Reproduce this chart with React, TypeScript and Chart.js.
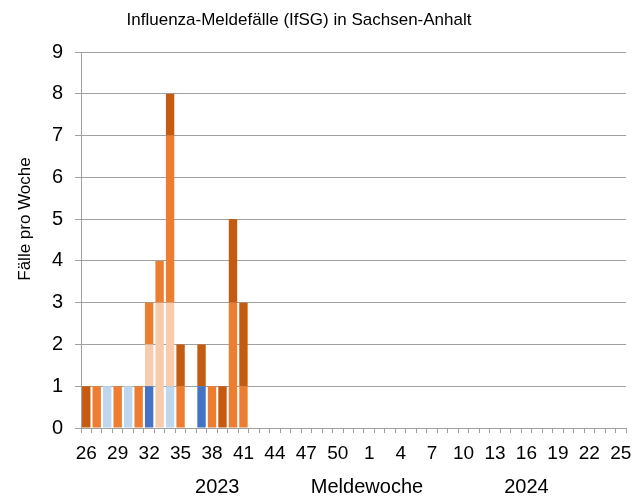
import React, { useEffect, useRef } from "react";
import { Chart, registerables } from "chart.js";

Chart.register(...registerables);

// Meldewochen 26/2023 .. 25/2024
const weeks: string[] = [
  "26", "27", "28", "29", "30", "31", "32", "33", "34", "35", "36", "37", "38", "39",
  "40", "41", "42", "43", "44", "45", "46", "47", "48", "49", "50", "51", "52",
  "1", "2", "3", "4", "5", "6", "7", "8", "9", "10", "11", "12", "13",
  "14", "15", "16", "17", "18", "19", "20", "21", "22", "23", "24", "25",
];

// Stacked series (bottom to top), cases per week
const seriesBlue: number[] = [
  0, 0, 0, 0, 0, 0, 1, 0, 0, 0, 0, 1, 0, 0, 0, 0, 0, 0, 0, 0, 0, 0, 0, 0, 0, 0, 0,
  0, 0, 0, 0, 0, 0, 0, 0, 0, 0, 0, 0, 0, 0, 0, 0, 0, 0, 0, 0, 0, 0, 0, 0, 0,
];
const seriesLightBlue: number[] = [
  0, 0, 1, 0, 1, 0, 0, 0, 1, 0, 0, 0, 0, 0, 0, 0, 0, 0, 0, 0, 0, 0, 0, 0, 0, 0, 0,
  0, 0, 0, 0, 0, 0, 0, 0, 0, 0, 0, 0, 0, 0, 0, 0, 0, 0, 0, 0, 0, 0, 0, 0, 0,
];
const seriesPeach: number[] = [
  0, 0, 0, 0, 0, 0, 1, 3, 2, 0, 0, 0, 0, 0, 0, 0, 0, 0, 0, 0, 0, 0, 0, 0, 0, 0, 0,
  0, 0, 0, 0, 0, 0, 0, 0, 0, 0, 0, 0, 0, 0, 0, 0, 0, 0, 0, 0, 0, 0, 0, 0, 0,
];
const seriesOrange: number[] = [
  0, 1, 0, 1, 0, 1, 1, 1, 4, 1, 0, 0, 1, 0, 3, 1, 0, 0, 0, 0, 0, 0, 0, 0, 0, 0, 0,
  0, 0, 0, 0, 0, 0, 0, 0, 0, 0, 0, 0, 0, 0, 0, 0, 0, 0, 0, 0, 0, 0, 0, 0, 0,
];
const seriesDarkOrange: number[] = [
  1, 0, 0, 0, 0, 0, 0, 0, 1, 1, 0, 1, 0, 1, 2, 2, 0, 0, 0, 0, 0, 0, 0, 0, 0, 0, 0,
  0, 0, 0, 0, 0, 0, 0, 0, 0, 0, 0, 0, 0, 0, 0, 0, 0, 0, 0, 0, 0, 0, 0, 0, 0,
];

const seriesNames: string[] = [
  "Influenza B",
  "Influenza B (nicht typisiert)",
  "Influenza A (nicht subtypisiert)",
  "Influenza A",
  "Influenza A(H1N1)pdm09",
];
const seriesColors: string[] = ["#4472C4", "#BDD7EE", "#F8CBAD", "#ED7D31", "#C55A11"];

const titleText = "Influenza-Meldefälle (IfSG) in Sachsen-Anhalt";
const yTitle = "Fälle pro Woche";
const bottomLabels: string[] = ["2023", "Meldewoche", "2024"];

const FONT = "'Liberation Sans', Arial, sans-serif";
const GRID = "#A0A0A0";

export default function App() {
  const ref = useRef<HTMLCanvasElement | null>(null);

  useEffect(() => {
    if (!ref.current) return;
    const values = [seriesBlue, seriesLightBlue, seriesPeach, seriesOrange, seriesDarkOrange];

    const textPlugin = {
      id: "extraText",
      afterDraw(chart: any) {
        const x = chart.scales.x;
        const ctx = chart.ctx;
        ctx.save();
        ctx.fillStyle = "#000";
        ctx.textAlign = "center";
        ctx.textBaseline = "middle";

        // title
        ctx.font = `17px ${FONT}`;
        ctx.fillText(titleText, 299, 20);

        // y axis title
        ctx.save();
        ctx.translate(25, 219);
        ctx.rotate(-Math.PI / 2);
        ctx.font = `17px ${FONT}`;
        ctx.fillText(yTitle, 0, 0);
        ctx.restore();

        // bottom labels
        ctx.font = `20px ${FONT}`;
        const y = 487;
        const p2023 = (x.getPixelForValue(12) + x.getPixelForValue(13)) / 2;
        const pMid = (x.getPixelForValue(26) + x.getPixelForValue(27)) / 2 + 3;
        const p2024 = x.getPixelForValue(42);
        ctx.fillText(bottomLabels[0], p2023, y);
        ctx.fillText(bottomLabels[1], pMid, y);
        ctx.fillText(bottomLabels[2], p2024, y);
        ctx.restore();
      },
    };

    const chart = new Chart(ref.current, {
      type: "bar",
      data: {
        labels: weeks,
        datasets: values.map((v, i) => ({
          label: seriesNames[i],
          data: v,
          backgroundColor: seriesColors[i],
          borderWidth: 0,
          barPercentage: 0.8,
          categoryPercentage: 1.0,
        })),
      },
      options: {
        responsive: false,
        animation: false,
        layout: { padding: { left: 0, right: 11, top: 52, bottom: 0 } },
        plugins: {
          legend: { display: false },
          tooltip: { enabled: false },
          title: { display: false },
        },
        scales: {
          x: {
            stacked: true,
            offset: true,
            grid: {
              display: true,
              offset: true,
              drawOnChartArea: false,
              drawTicks: true,
              tickLength: 5,
              color: GRID,
            },
            border: { display: true, color: GRID },
            ticks: {
              autoSkip: false,
              maxRotation: 0,
              minRotation: 0,
              padding: 9,
              color: "#000",
              font: { family: FONT, size: 19 },
              callback: (_v: any, i: number) => (i % 3 === 0 ? weeks[i] : ""),
            },
            afterFit: (s: any) => {
              s.height = 73;
              s.paddingLeft = 0;
              s.paddingRight = 0;
            },
          },
          y: {
            stacked: true,
            min: 0,
            max: 9,
            grid: { color: GRID, tickLength: 6 },
            border: { display: true, color: GRID },
            ticks: {
              stepSize: 1,
              padding: 12,
              color: "#000",
              font: { family: FONT, size: 20 },
            },
            title: { display: false },
            afterFit: (s: any) => {
              s.width = 81;
              s.paddingTop = 0;
            },
          },
        },
      },
      plugins: [textPlugin],
    });
    return () => chart.destroy();
  }, []);

  return (
    <div style={{ position: "fixed", left: 0, top: 0, width: 637, height: 501, background: "#fff" }}>
      <canvas ref={ref} width={637} height={501} style={{ display: "block" }} />
    </div>
  );
}
